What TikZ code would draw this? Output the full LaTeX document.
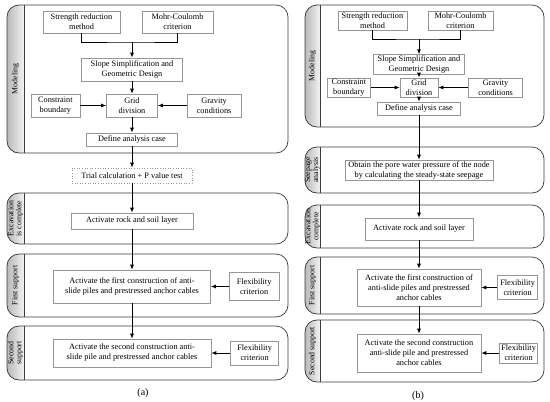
\documentclass[tikz,border=0pt]{standalone}
\usepackage{fontspec}
\setmainfont{Liberation Serif}
\usetikzlibrary{positioning,arrows.meta}
\definecolor{flowgray}{RGB}{150,150,150}
\definecolor{laneborder}{RGB}{60,60,60}
\definecolor{lanelight}{RGB}{242,242,242}
\definecolor{lanedark}{RGB}{185,185,185}

\newcommand{\swimlane}[6]{%
  \begin{scope}
    \clip[rounded corners=12pt] (#1,#2) rectangle (#3,#4);
    \fill[left color=lanedark, right color=lanelight] (#1,#2) rectangle (#5,#4);
  \end{scope}
  \draw[laneline] (#5,#2) -- (#5,#4);
  \draw[laneline, rounded corners=12pt] (#1,#2) rectangle (#3,#4);
  \node[lanelabel] at ({(#1+#5)/2},{(#2+#4)/2}) {#6};
}

\begin{document}
\begin{tikzpicture}[
    x=1pt, y=-1pt,
    box/.style={rectangle, draw=flowgray, line width=0.6pt, fill=white, align=center,
                inner sep=1pt, font=\fontsize{8.3}{10}\selectfont},
    trialbox/.style={box, dotted},
    laneline/.style={draw=laneborder, line width=0.7pt},
    lanelabel/.style={rotate=90, align=center, font=\fontsize{7.8}{8}\selectfont},
    arrow/.style={-{Latex[length=5pt,width=4pt]}, line width=0.8pt, color=black},
    link/.style={line width=0.8pt, color=black}
]
    \useasboundingbox (0,0) rectangle (550,402);

    \swimlane{7}{5}{288}{153}{24}{Modeling}
    \swimlane{7}{193}{288}{244}{24}{Excavation\\is complete}
    \swimlane{7}{254}{288}{317}{24}{First support}
    \swimlane{7}{326}{288}{380}{24}{Second\\support}

    \swimlane{305}{5}{544}{127}{320}{Modeling}
    \swimlane{305}{147}{544}{193}{320}{Seepage\\analysis}
    \swimlane{305}{205}{544}{248}{320}{Excavation\\complete}
    \swimlane{305}{257}{544}{314}{320}{First support}
    \swimlane{305}{320}{544}{382}{320}{Second support}

    % (a)
    \node[box, minimum width=77pt, minimum height=22pt] (strengtha) at (81.5,22) {Strength reduction\\method};
    \node[box, minimum width=71pt, minimum height=22pt] (mohra) at (177.5,22) {Mohr-Coulomb\\criterion};
    \node[box, minimum width=101pt, minimum height=23pt] (slopea) at (132,69.5) {Slope Simplification and\\Geometric Design};
    \node[box, minimum width=51pt, minimum height=23pt] (grida) at (132,105.5) {Grid\\division};
    \node[box, minimum width=49pt, minimum height=23pt, left=26pt of grida] (constrainta) {Constraint\\boundary};
    \node[box, minimum width=54pt, minimum height=23pt, right=29pt of grida] (gravitya) {Gravity\\conditions};
    \node[box, minimum width=91pt, minimum height=13pt] (definea) at (132,139.5) {Define analysis case};
    \node[trialbox, minimum width=120pt, minimum height=15pt] (trial) at (132,175.5) {Trial calculation + P value test};
    \node[box, minimum width=122pt, minimum height=16pt] (rocka) at (132,221) {Activate rock and soil layer};
    \node[box, minimum width=157pt, minimum height=33pt] (firsta) at (132,286.5) {Activate the first construction of anti-\\slide piles and prestressed anchor cables};
    \node[box, minimum width=50pt, minimum height=28pt, right=18pt of firsta] (flexa) {Flexibility\\criterion};
    \node[box, minimum width=158pt, minimum height=28pt] (seconda) at (132,353) {Activate the second construction anti-\\slide pile and prestressed anchor cables};
    \node[box, minimum width=48pt, minimum height=24pt, right=19pt of seconda] (flexsa) {Flexibility\\criterion};

    \coordinate (joina) at (132,42);
    \draw[link] (strengtha.south) |- (joina) -| (mohra.south);
    \draw[arrow] (joina) -- (slopea);
    \draw[arrow] (slopea) -- (grida);
    \draw[arrow] (constrainta) -- (grida);
    \draw[arrow] (gravitya) -- (grida);
    \draw[arrow] (grida) -- (definea);
    \draw[arrow] (definea) -- (trial);
    \draw[arrow] (trial) -- (rocka);
    \draw[arrow] (rocka) -- (firsta);
    \draw[arrow] (flexa) -- (firsta);
    \draw[arrow] (firsta) -- (seconda);
    \draw[arrow] (flexsa) -- (seconda);

    % (b)
    \node[box, minimum width=69pt, minimum height=19pt] (strengthb) at (372.5,20.5) {Strength reduction\\method};
    \node[box, minimum width=65pt, minimum height=19pt] (mohrb) at (460.5,20.5) {Mohr-Coulomb\\criterion};
    \node[box, minimum width=91pt, minimum height=19pt] (slopeb) at (419,64.5) {Slope Simplification and\\Geometric Design};
    \node[box, minimum width=38pt, minimum height=19pt] (gridb) at (419,87.5) {Grid\\division};
    \node[box, minimum width=43pt, minimum height=19pt, left=29pt of gridb] (constraintb) {Constraint\\boundary};
    \node[box, minimum width=54pt, minimum height=19pt, right=30pt of gridb] (gravityb) {Gravity\\conditions};
    \node[box, minimum width=83pt, minimum height=13pt] (defineb) at (419,108.5) {Define analysis case};
    \node[box, minimum width=148pt, minimum height=20pt] (seepage) at (419,170) {Obtain the pore water pressure of the node\\by calculating the steady-state seepage};
    \node[box, minimum width=108pt, minimum height=22pt] (rockb) at (419,229) {Activate rock and soil layer};
    \node[box, minimum width=124pt, minimum height=37pt] (firstb) at (419,287.5) {Activate the first construction of\\anti-slide piles and prestressed\\anchor cables};
    \node[box, minimum width=40pt, minimum height=24pt, right=16pt of firstb] (flexb) {Flexibility\\criterion};
    \node[box, minimum width=124pt, minimum height=38pt] (secondb) at (419,353) {Activate the second construction\\anti-slide pile and prestressed\\anchor cables};
    \node[box, minimum width=38pt, minimum height=20pt, right=18pt of secondb] (flexsb) {Flexibility\\criterion};

    \coordinate (joinb) at (419,39);
    \draw[link] (strengthb.south) |- (joinb) -| (mohrb.south);
    \draw[arrow] (joinb) -- (slopeb);
    \draw[arrow] (slopeb) -- (gridb);
    \draw[arrow] (constraintb) -- (gridb);
    \draw[arrow] (gravityb) -- (gridb);
    \draw[arrow] (gridb) -- (defineb);
    \draw[arrow] (defineb) -- (seepage);
    \draw[arrow] (seepage) -- (rockb);
    \draw[arrow] (rockb) -- (firstb);
    \draw[arrow] (flexb) -- (firstb);
    \draw[arrow] (firstb) -- (secondb);
    \draw[arrow] (flexsb) -- (secondb);

    \node[font=\fontsize{10}{12}\selectfont] (capa) at (143,393) {(a)};
    \node[font=\fontsize{10}{12}\selectfont] (capb) at (418,396) {(b)};
\end{tikzpicture}
\end{document}
